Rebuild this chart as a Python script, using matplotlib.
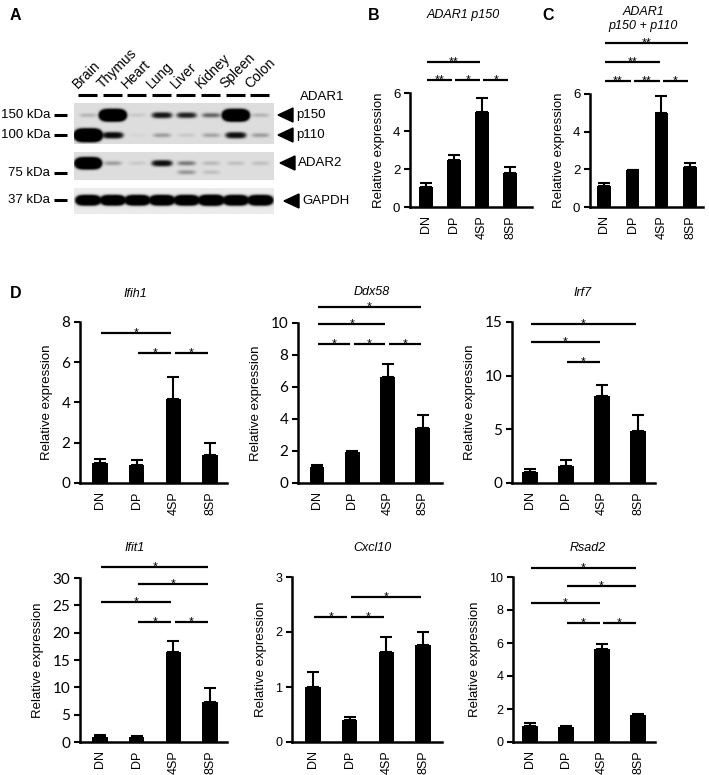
import numpy as np
import matplotlib.pyplot as plt
from matplotlib.patches import Polygon

plt.rcParams['font.family'] = ['Liberation Sans', 'DejaVu Sans']

W, H = 709, 775

# --- dane: western blot (A) ---
lanes = ['Brain', 'Thymus', 'Heart', 'Lung', 'Liver', 'Kidney', 'Spleen', 'Colon']
band_p150 = [0.2, 60, 0.1, 2.5, 2.0, 0.8, 60, 0.2]
band_p110 = [90, 3.5, 0.04, 0.35, 0.1, 0.3, 3.0, 0.35]
band_adar2 = [50, 0.35, 0.1, 3.0, 0.6, 0.18, 0.15, 0.15]
band_adar2_low = [0, 0, 0, 0, 0.4, 0.15, 0, 0]
band_gapdh = [25, 25, 25, 25, 25, 30, 25, 25]
markers = ['150 kDa', '100 kDa', '75 kDa', '37 kDa']

# --- dane: qPCR ---
groups = ['DN', 'DP', '4SP', '8SP']

p150_mean = [1.05, 2.5, 5.0, 1.8]
p150_err = [0.2, 0.22, 0.75, 0.33]
p150_sig = [(0, 1, 6.68, '**'), (1, 2, 6.68, '*'), (2, 3, 6.68, '*'), (0, 2, 7.63, '**')]

total_mean = [1.1, 1.95, 5.0, 2.1]
total_err = [0.2, 0.03, 0.9, 0.25]
total_sig = [(0, 1, 6.69, '**'), (1, 2, 6.69, '**'), (2, 3, 6.69, '*'),
             (0, 2, 7.7, '**'), (0, 3, 8.71, '**')]

ifih1_mean = [1.0, 0.88, 4.15, 1.38]
ifih1_err = [0.2, 0.28, 1.1, 0.6]
ifih1_sig = [(1, 2, 6.47, '*'), (2, 3, 6.47, '*'), (0, 2, 7.46, '*')]

ddx58_mean = [1.0, 1.95, 6.65, 3.45]
ddx58_err = [0.1, 0.08, 0.8, 0.82]
ddx58_sig = [(0, 1, 8.69, '*'), (1, 2, 8.69, '*'), (2, 3, 8.69, '*'),
             (0, 2, 9.94, '*'), (0, 3, 11.0, '*')]

irf7_mean = [1.0, 1.55, 8.1, 4.85]
irf7_err = [0.3, 0.55, 1.05, 1.45]
irf7_sig = [(1, 2, 11.28, '*'), (0, 2, 13.14, '*'), (0, 3, 14.8, '*')]

ifit1_mean = [1.0, 1.0, 16.4, 7.4]
ifit1_err = [0.2, 0.1, 2.1, 2.5]
ifit1_sig = [(1, 2, 21.9, '*'), (2, 3, 21.9, '*'), (0, 2, 25.6, '*'),
             (1, 3, 28.9, '*'), (0, 3, 32.0, '*')]

cxcl10_mean = [1.0, 0.4, 1.63, 1.76]
cxcl10_err = [0.27, 0.05, 0.28, 0.24]
cxcl10_sig = [(0, 1, 2.27, '*'), (1, 2, 2.27, '*'), (1, 3, 2.64, '*')]

rsad2_mean = [1.0, 0.92, 5.65, 1.65]
rsad2_err = [0.18, 0.05, 0.28, 0.06]
rsad2_sig = [(1, 2, 7.21, '*'), (2, 3, 7.21, '*'), (0, 2, 8.42, '*'),
             (1, 3, 9.45, '*'), (0, 3, 10.55, '*')]


fig = plt.figure(figsize=(W / 100, H / 100), dpi=100)


def px_axes(left, top, right, bottom):
    return fig.add_axes([left / W, 1 - bottom / H, (right - left) / W, (bottom - top) / H])


def px_text(x, y, s, **kw):
    fig.text(x / W, 1 - y / H, s, **kw)


# --- panel A: blot rysowany w ukladzie pikseli ---
axA = px_axes(0, 0, 360, 290)
axA.axis('off')

lane_x0, lane_dx = 88, 24.6
lane_pos = [lane_x0 + i * lane_dx for i in range(len(lanes))]
strip_x = (74, 274)


def draw_strip(y0, y1, bands, bg=0.13):
    xs = np.arange(strip_x[0], strip_x[1], 0.5)
    ys = np.arange(y0, y1, 0.5)
    X, Y = np.meshgrid(xs, ys)
    dens = np.zeros_like(X)
    for yc, amps in bands:
        for xc, a in zip(lane_pos, amps):
            if a <= 0:
                continue
            sy = 2.0 * (1 + 0.14 * np.log1p(a))
            sx = 8.5 * (1 + 0.04 * np.log1p(a))
            dens += a * np.exp(-np.abs((X - xc) / sx) ** 4) * np.exp(-((Y - yc) / sy) ** 2)
    img = bg + (1 - bg) * (1 - np.exp(-dens))
    axA.imshow(img, cmap='gray_r', vmin=0, vmax=1, extent=(strip_x[0], strip_x[1], y1, y0),
               aspect='auto', interpolation='bilinear', zorder=1)


draw_strip(103, 144, [(115, band_p150), (135, band_p110)])
draw_strip(152, 180, [(163, band_adar2), (172, band_adar2_low)])
draw_strip(188, 214, [(200, band_gapdh)], bg=0.08)
axA.set_xlim(0, 360)
axA.set_ylim(290, 0)

for x, name in zip(lane_pos, lanes):
    axA.plot([x - 10, x + 9], [95, 95], color='black', lw=2.2, solid_capstyle='butt')
    axA.text(x - 8, 91, name, rotation=45, rotation_mode='anchor', ha='left', va='bottom',
             fontsize=10)

for y, lab in zip([115, 135, 173, 200], markers):
    axA.plot([54, 67], [y, y], color='black', lw=2.2, solid_capstyle='butt')
    axA.text(50, y, lab, ha='right', va='center', fontsize=9.5)

for tip, y, lab in [(278, 115, 'p150'), (278, 135, 'p110'), (280, 163, 'ADAR2'), (284, 201, 'GAPDH')]:
    axA.add_patch(Polygon([[tip, y], [tip + 15, y - 7], [tip + 15, y + 7]], closed=True,
                          color='black', clip_on=False))
    axA.text(tip + 18, y, lab, ha='left', va='center', fontsize=9.5)
axA.text(300, 97, 'ADAR1', ha='left', va='center', fontsize=9.5)


# --- wykresy slupkowe ---
def bar_panel(geom, mean, err, sig, ymax, yticks, width, tick_font, tick_size):
    left, top, right, bottom, first, sp = geom
    ax = px_axes(left, top, right, bottom)
    x = np.arange(len(groups))
    ax.bar(x, mean, width=width, color='black', zorder=2)
    ax.errorbar(x, mean, yerr=[np.zeros(len(err)), err], fmt='none', ecolor='black',
                elinewidth=1.5, capsize=4, capthick=1.5, zorder=3)
    ax.set_xlim(-(first - left) / sp, (right - first) / sp)
    ax.set_ylim(0, ymax)
    ax.set_yticks(yticks)
    ax.set_xticks(x)
    ax.set_xticklabels(groups, rotation=90, fontsize=9)
    for lab in ax.get_yticklabels():
        lab.set_family(tick_font)
        lab.set_fontsize(tick_size)
    ax.tick_params(axis='x', length=0, pad=6)
    ax.tick_params(axis='y', length=4, width=1.5, pad=3)
    for s in ['top', 'right']:
        ax.spines[s].set_visible(False)
    for s in ['left', 'bottom']:
        ax.spines[s].set_linewidth(1.8)
    ax.set_ylabel('Relative expression', fontsize=9.5, labelpad=6)
    for i, j, y, lab in sig:
        ax.plot([i + 0.04, j - 0.06], [y, y], color='black', lw=1.6, clip_on=False,
                solid_capstyle='butt')
        ax.annotate(lab, ((i + j - 0.02) / 2, y), xytext=(0, -2.5), textcoords='offset points',
                    ha='center', va='baseline', fontsize=9, annotation_clip=False)
    return ax


arial = ['Liberation Sans']
lato = ['Lato', 'Liberation Sans']

bar_panel((410, 93, 532, 207, 426, 28), p150_mean, p150_err, p150_sig, 6, [0, 2, 4, 6], 0.47, arial, 9.5)
bar_panel((590, 94, 703, 207, 604, 28.7), total_mean, total_err, total_sig, 6, [0, 2, 4, 6], 0.47, arial, 9.5)
bar_panel((80, 322, 227, 483, 100, 36.7), ifih1_mean, ifih1_err, ifih1_sig, 8, [0, 2, 4, 6, 8], 0.42, lato, 11)
bar_panel((298, 323, 442, 483, 317, 35.3), ddx58_mean, ddx58_err, ddx58_sig, 10, [0, 2, 4, 6, 8, 10], 0.42, lato, 11)
bar_panel((512, 322, 655, 483, 530, 36), irf7_mean, irf7_err, irf7_sig, 15, [0, 5, 10, 15], 0.42, lato, 11)
bar_panel((80, 578, 227, 742, 100, 36.7), ifit1_mean, ifit1_err, ifit1_sig, 30, [0, 5, 10, 15, 20, 25, 30], 0.42, lato, 11)
bar_panel((292, 577, 442, 742, 313, 36.7), cxcl10_mean, cxcl10_err, cxcl10_sig, 3, [0, 1, 2, 3], 0.42, arial, 9)
bar_panel((513, 577, 655, 742, 530, 36), rsad2_mean, rsad2_err, rsad2_sig, 10, [0, 2, 4, 6, 8, 10], 0.42, arial, 9)

# --- litery paneli i tytuly ---
for x, y, s in [(10, 15, 'A'), (368, 15, 'B'), (542, 15, 'C'), (10, 294, 'D')]:
    px_text(x, y, s, fontsize=11.5, fontweight='bold', va='center', ha='left')

px_text(463, 15, 'ADAR1 p150', fontsize=9, style='italic', ha='center', va='center')
px_text(643, 12, 'ADAR1', fontsize=9, style='italic', ha='center', va='center')
px_text(643, 26, 'p150 + p110', fontsize=9, style='italic', ha='center', va='center')
for x, y, s in [(135, 294, 'Ifih1'), (372, 292, 'Ddx58'), (583, 293, 'Irf7'),
                (135, 548, 'Ifit1'), (372, 548, 'Cxcl10'), (588, 548, 'Rsad2')]:
    px_text(x, y, s, fontsize=9, style='italic', ha='center', va='center')

fig.savefig('out.png', dpi=100)
